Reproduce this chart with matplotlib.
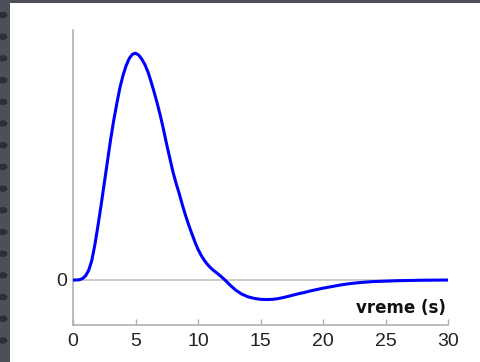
import numpy as np
import matplotlib
matplotlib.use("Agg")
import matplotlib.pyplot as plt
from matplotlib.patches import Rectangle, Circle

# hemodynamic response (peak normalised to 1)
time_s = [0, 0.25, 0.5, 0.75, 1.0, 1.25, 1.5, 1.75, 2.0, 2.25, 2.5, 2.75,
          3.0, 3.25, 3.5, 3.75, 4.0, 4.25, 4.5, 4.75, 5.0, 5.25, 5.5, 5.75,
          6.0, 6.25, 6.5, 6.75, 7.0, 7.25, 7.5, 7.75, 8.0, 8.25, 8.5, 8.75,
          9.0, 9.25, 9.5, 9.75, 10.0, 10.25, 10.5, 10.75, 11.0, 11.25, 11.5,
          11.75, 12.0, 12.25, 12.5,
          13.0, 13.5, 14.0, 14.5, 15.0, 15.5, 16.0, 16.5, 17.0, 17.5, 18.0,
          18.5, 19.0, 19.5, 20.0, 20.5, 21.0, 21.5, 22.0, 22.5, 23.0, 23.5,
          24.0, 24.5, 25.0, 25.5, 26.0, 27.0, 28.0, 29.0, 30.0]
response = [0, 0, 0.001, 0.006, 0.018, 0.042, 0.085, 0.155, 0.24, 0.33,
            0.425, 0.52, 0.615, 0.70, 0.775, 0.845, 0.90, 0.943, 0.975, 0.993,
            0.998, 0.99, 0.972, 0.948, 0.915, 0.872, 0.825, 0.775, 0.72, 0.66,
            0.595, 0.535, 0.475, 0.425, 0.38, 0.33, 0.285, 0.243, 0.205,
            0.168, 0.135, 0.109, 0.087, 0.069, 0.054, 0.042, 0.031, 0.020,
            0.008, -0.005, -0.019,
            -0.044, -0.062, -0.074, -0.081, -0.085, -0.086, -0.085, -0.081,
            -0.075, -0.068, -0.061, -0.055, -0.048, -0.042, -0.036, -0.031,
            -0.026, -0.021, -0.017, -0.014, -0.011, -0.009, -0.007, -0.006,
            -0.005, -0.004, -0.003, -0.002, -0.001, -0.0005, 0]
xticks = [0, 5, 10, 15, 20, 25, 30]

fig = plt.figure(figsize=(4.81, 3.62), dpi=100)
fig.patch.set_facecolor("#4d5058")

# white slide area + dotted frame on the left
fig.patches.append(Rectangle((10 / 481, 0), 1, (362 - 3) / 362,
                             transform=fig.transFigure, facecolor="white",
                             edgecolor="none", zorder=-2))
for yy in np.arange(15, 362, 21.7):
    fig.patches.append(Circle((3 / 481, 1 - yy / 362), 0.009,
                              transform=fig.transFigure, facecolor="#2c2f35",
                              edgecolor="none", zorder=-2))

ax = fig.add_axes([73 / 481, 37 / 362, 375 / 481, 295 / 362])
ax.set_zorder(1)
ax.patch.set_alpha(0)

ax.axhline(0, color="#c4c4c4", lw=1.2, zorder=1)
ax.plot(time_s, response, color="#0000ff", lw=2.2, zorder=3,
        solid_joinstyle="round")

ax.set_xlim(0, 30)
ax.set_ylim(-0.198, 1.1)
ax.set_xticks(xticks)
ax.set_yticks([0])
ax.tick_params(axis="x", direction="in", length=4, width=1, color="#b0b0b0",
               pad=6, labelsize=14, labelcolor="#222222")
ax.tick_params(axis="y", length=0, pad=4, labelsize=14, labelcolor="#222222")
for lab in ax.get_xticklabels() + ax.get_yticklabels():
    lab.set_family("Liberation Sans")

for s in ["top", "right"]:
    ax.spines[s].set_visible(False)
for s in ["left", "bottom"]:
    ax.spines[s].set_color("#b0b0b0")
    ax.spines[s].set_linewidth(1.2)

ax.text(29.8, -0.122, "vreme (s)", ha="right", va="center", fontsize=12,
        fontweight="bold", color="#111111")

fig.savefig("out.png", dpi=100, facecolor=fig.get_facecolor())
